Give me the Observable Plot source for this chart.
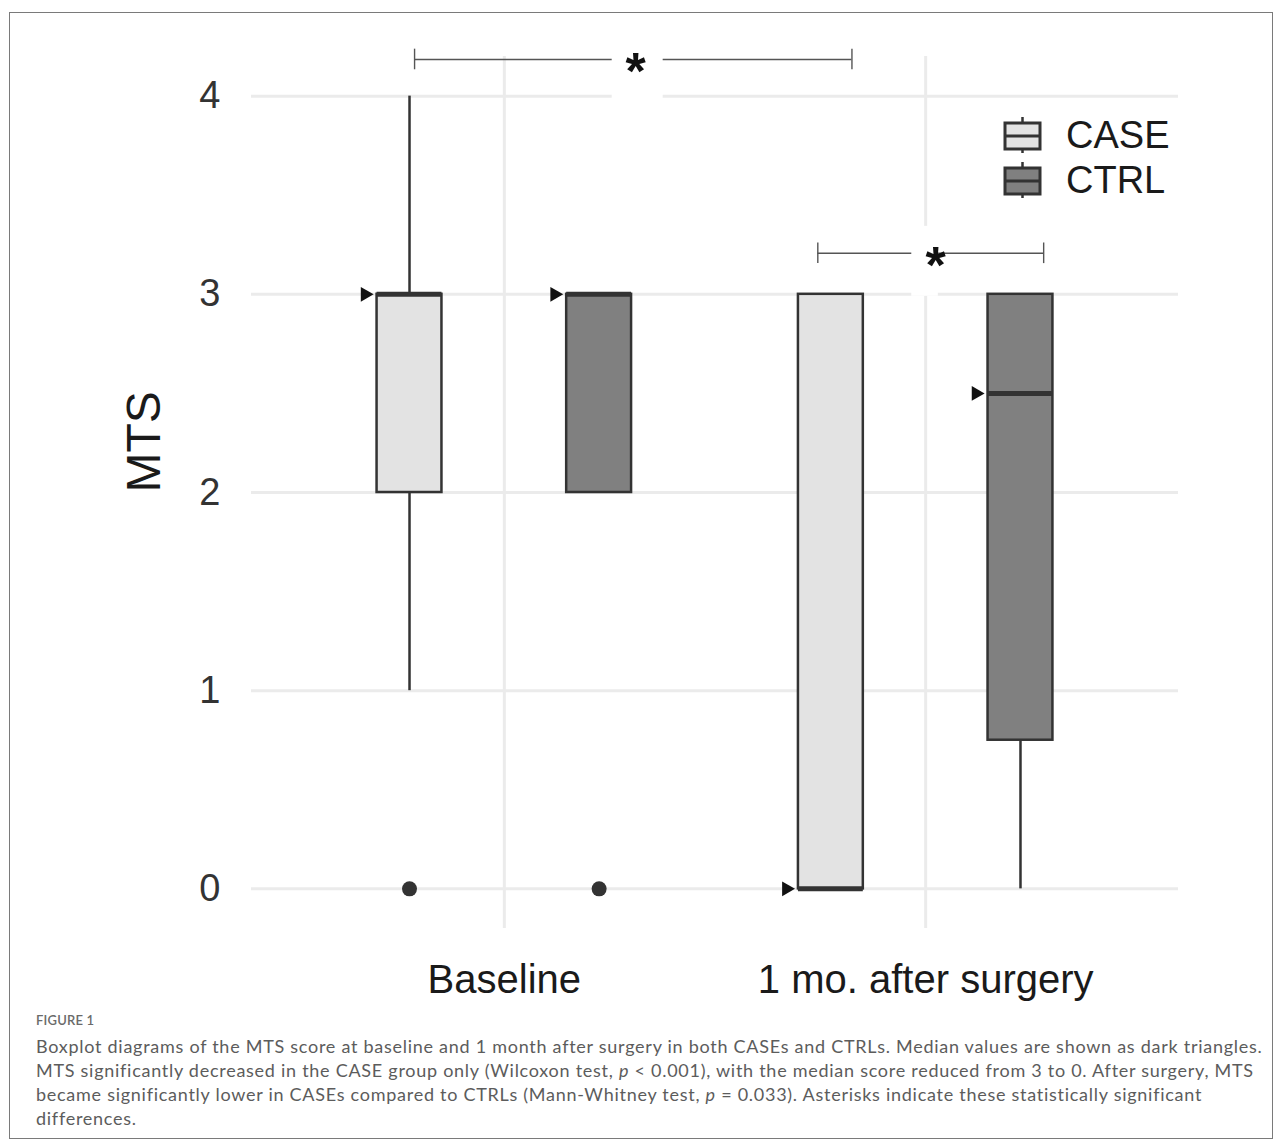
<!DOCTYPE html>
<html>
<head>
<meta charset="utf-8">
<script src="https://cdn.jsdelivr.net/npm/d3@7"></script>
<script src="https://cdn.jsdelivr.net/npm/@observablehq/plot@0.6"></script>
<style>
  html, body { margin: 0; padding: 0; background: #fff; }
  body { width: 1282px; height: 1147px; position: relative; overflow: hidden; }
  #frame { position: absolute; left: 9px; top: 12px; width: 1264px; height: 1127px; border: 1px solid #7a7a7a; box-sizing: border-box; }
  #chart { position: absolute; left: 0; top: 0; }
  #legend { position: absolute; left: 990px; top: 100px; }
  #figlabel { position: absolute; left: 36px; top: 1011px; font-family: Lato, "Open Sans", sans-serif; font-size: 13px; line-height: 18px; color: #6a6a6a; font-weight: 600; letter-spacing: 0.2px; }
  #caption { position: absolute; left: 36px; top: 1034px; font-family: Lato, "Open Sans", sans-serif; font-size: 18px; line-height: 24px; color: #5c5c5c; white-space: nowrap; }
  #caption span { display: block; }
</style>
</head>
<body>
<div id="frame"></div>
<div id="chart"></div>
<div id="legend"></div>
<div id="figlabel">FIGURE 1</div>
<div id="caption"><span>Boxplot diagrams of the MTS score at baseline and 1 month after surgery in both CASEs and CTRLs. Median values are shown as dark triangles.</span><span>MTS significantly decreased in the CASE group only (Wilcoxon test, <i>p</i> &lt; 0.001), with the median score reduced from 3 to 0. After surgery, MTS</span><span>became significantly lower in CASEs compared to CTRLs (Mann-Whitney test, <i>p</i> = 0.033). Asterisks indicate these statistically significant</span><span>differences.</span></div>
<script>
// ---- data ----
const categories = ["Baseline", "1 mo. after surgery"];
const groups = ["CASE", "CTRL"];
const yTicks = [0, 1, 2, 3, 4];

const boxTime  = ["Baseline", "Baseline", "1 mo. after surgery", "1 mo. after surgery"];
const boxGroup = ["CASE", "CTRL", "CASE", "CTRL"];
const boxQ1    = [2, 2, 0, 0.75];
const boxMed   = [3, 3, 0, 2.5];
const boxQ3    = [3, 3, 3, 3];
const whiskLo  = [1, 2, 0, 0];
const whiskHi  = [4, 3, 3, 3];

const outlierTime  = ["Baseline", "Baseline"];
const outlierGroup = ["CASE", "CTRL"];
const outlierValue = [0, 0];

const bracketX1    = [0.787, 1.744];
const bracketX2    = [1.825, 2.28];
const bracketY     = [4.185, 3.207];
const bracketLabel = ["*", "*"];

// ---- layout / style constants ----
const groupFill = ["#e3e3e3", "#808080"];
const dodge = 0.225, halfW = 0.077;
const labelX  = [1.3116, 2.0237];
const maskX1  = [1.256, 1.967];
const maskX2  = [1.377, 2.030];
const ink = "#333333";

const xPos = (t, g) => categories.indexOf(t) + 1 + (g === groups[0] ? -dodge : dodge);

const rows = boxTime.map((t, i) => ({
  time: t, group: boxGroup[i], xc: xPos(t, boxGroup[i]),
  q1: boxQ1[i], med: boxMed[i], q3: boxQ3[i], lo: whiskLo[i], hi: whiskHi[i]
}));
const outliers = outlierTime.map((t, i) => ({ xc: xPos(t, outlierGroup[i]), v: outlierValue[i] }));
const brackets = bracketY.map((y, i) => ({
  x1: bracketX1[i], x2: bracketX2[i], y, label: bracketLabel[i],
  lx: labelX[i], mx1: maskX1[i], mx2: maskX2[i]
}));

const chart = Plot.plot({
  width: 1282,
  height: 1005,
  marginLeft: 251,
  marginRight: 104,
  marginTop: 56,
  marginBottom: 77,
  style: { fontFamily: "'Liberation Sans', Arial, Helvetica, sans-serif", background: "transparent", overflow: "visible" },
  x: { domain: [0.4, 2.6] },
  y: { domain: [-0.2, 4.2] },
  color: { domain: groups, range: groupFill },
  marks: [
    Plot.gridY({ ticks: yTicks, stroke: "#ebebeb", strokeOpacity: 1, strokeWidth: 3 }),
    Plot.gridX({ ticks: [1, 2], stroke: "#ebebeb", strokeOpacity: 1, strokeWidth: 3 }),
    // whiskers
    Plot.ruleX(rows, { x: "xc", y1: "q3", y2: "hi", stroke: ink, strokeWidth: 2.5 }),
    Plot.ruleX(rows, { x: "xc", y1: "lo", y2: "q1", stroke: ink, strokeWidth: 2.5 }),
    // boxes
    Plot.rect(rows, { x1: d => d.xc - halfW, x2: d => d.xc + halfW, y1: "q1", y2: "q3", fill: "group", stroke: ink, strokeWidth: 2.5 }),
    // medians
    Plot.ruleY(rows, { y: "med", x1: d => d.xc - halfW, x2: d => d.xc + halfW, stroke: ink, strokeWidth: 5 }),
    // median triangles
    Plot.dot(rows, { x: d => d.xc - halfW, y: "med", symbol: "triangle", rotate: 90, r: 5.5, fill: "#111", stroke: "none", dx: -12 }),
    // outliers
    Plot.dot(outliers, { x: "xc", y: "v", r: 7.5, fill: ink, stroke: "none" }),
    // significance brackets
    Plot.ruleY(brackets, { y: "y", x1: "x1", x2: "x2", stroke: "#555", strokeWidth: 1.4 }),
    Plot.ruleX(brackets, { x: "x1", y1: d => d.y - 0.052, y2: d => d.y + 0.052, stroke: "#555", strokeWidth: 1.4 }),
    Plot.ruleX(brackets, { x: "x2", y1: d => d.y - 0.052, y2: d => d.y + 0.052, stroke: "#555", strokeWidth: 1.4 }),
    Plot.rect(brackets, { x1: "mx1", x2: "mx2", y1: d => d.y - 0.217, y2: d => d.y + 0.136, fill: "white" }),
    Plot.text(brackets, { x: "lx", y: "y", text: "label", fontSize: 52, fontWeight: "bold", lineAnchor: "bottom", dy: 30, fill: "#111" }),
    // axes
    Plot.axisY({ ticks: yTicks, tickFormat: d => String(d), tickSize: 0, tickPadding: 31, fontSize: 38, label: null, fill: "#333" }),
    Plot.axisX({ ticks: [1, 2], tickFormat: d => categories[d - 1], tickSize: 0, tickPadding: 36, fontSize: 40, label: null, fill: "#1a1a1a" }),
    Plot.text(["MTS"], { frameAnchor: "left", text: d => d, rotate: -90, dx: -107, fontSize: 48, fill: "#1a1a1a" })
  ]
});
document.getElementById("chart").appendChild(chart);

// ---- legend ----
const lg = d3.select("#legend").append("svg").attr("width", 200).attr("height", 110)
  .style("font-family", "'Liberation Sans', Arial, Helvetica, sans-serif");
const rowTop = [23, 68];
groups.forEach((g, i) => {
  const t = rowTop[i];
  const item = lg.append("g");
  item.append("line").attr("x1", 32.5).attr("x2", 32.5).attr("y1", t - 6).attr("y2", t + 30).attr("stroke", ink).attr("stroke-width", 2.5);
  item.append("rect").attr("x", 15).attr("y", t).attr("width", 35).attr("height", 26).attr("fill", groupFill[i]).attr("stroke", ink).attr("stroke-width", 3);
  item.append("line").attr("x1", 15).attr("x2", 50).attr("y1", t + 13).attr("y2", t + 13).attr("stroke", ink).attr("stroke-width", 3);
  item.append("text").attr("x", 76).attr("y", t + 25).attr("font-size", 38).attr("fill", "#1a1a1a").text(g);
});

// ---- fit caption line 1 to the reference width via letter spacing ----
const capLines = document.querySelectorAll("#caption span");
const first = capLines[0];
const range = document.createRange();
range.selectNodeContents(first);
const w = range.getBoundingClientRect().width;
const nChars = first.textContent.length;
const ls = (1226 - w) / nChars;
document.getElementById("caption").style.letterSpacing = ls.toFixed(3) + "px";
</script>
</body>
</html>
